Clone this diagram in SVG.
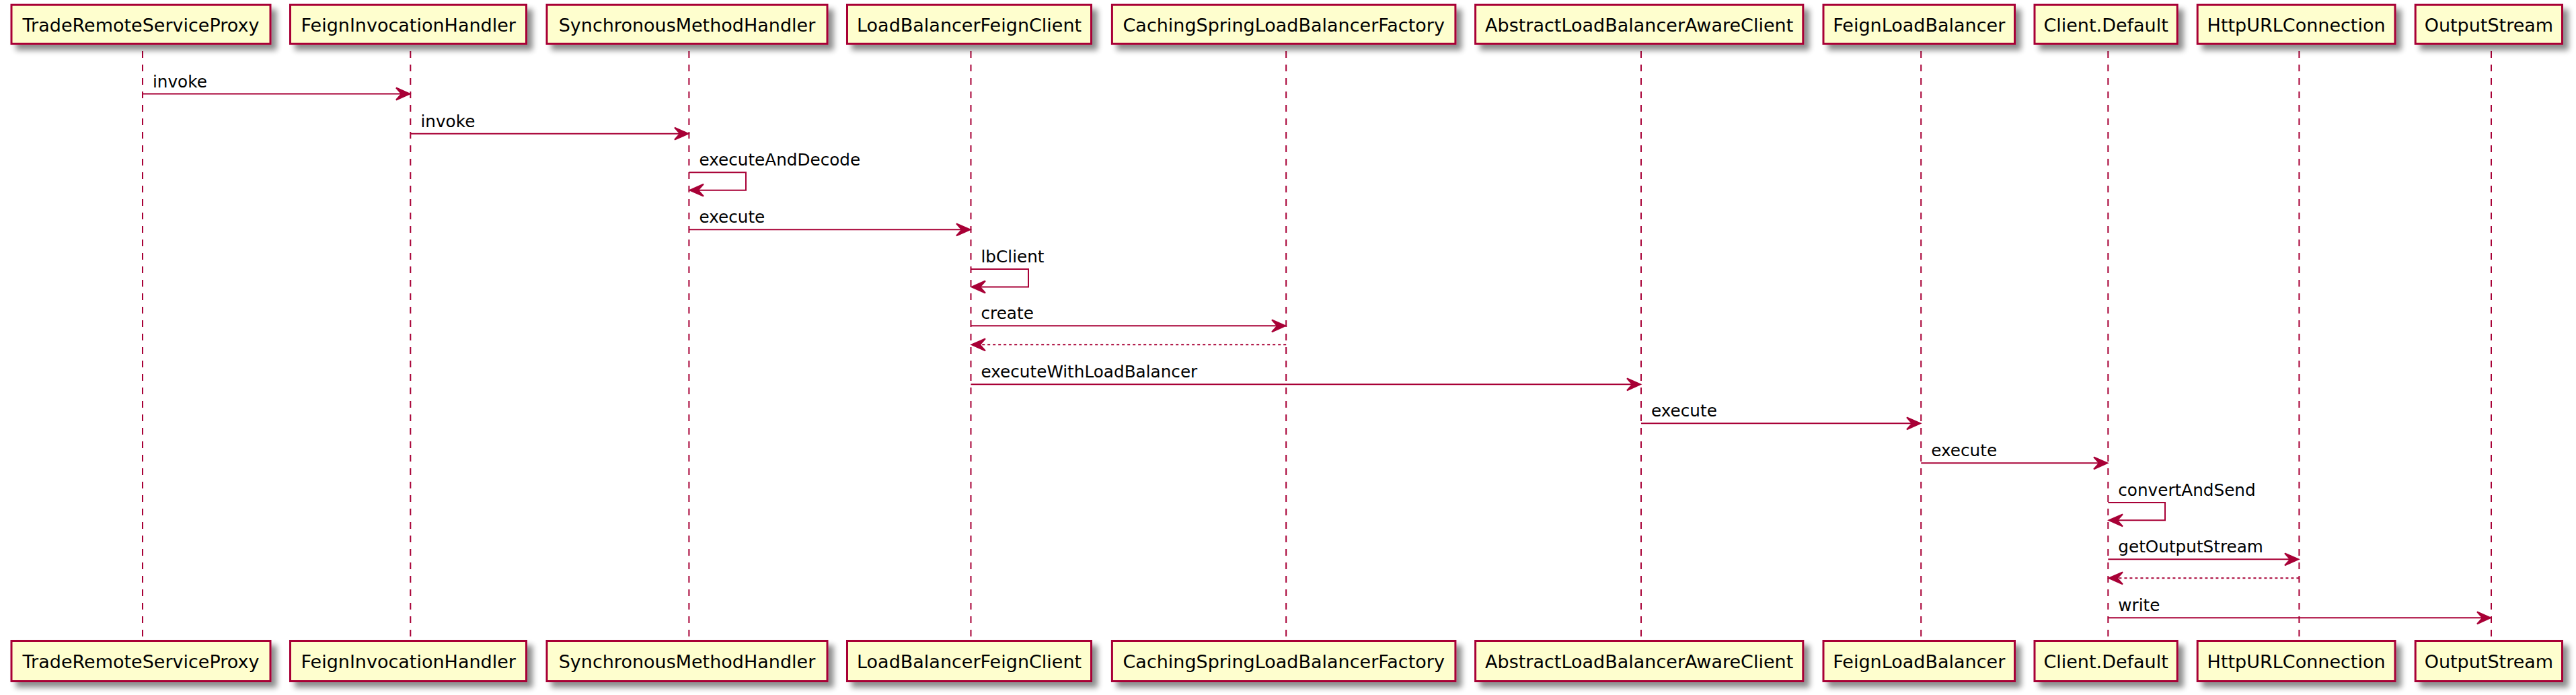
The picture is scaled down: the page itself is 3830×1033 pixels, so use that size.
<svg xmlns="http://www.w3.org/2000/svg" width="3830" height="1033" viewBox="0 0 3830 1033">
<defs>
<filter id="sh" x="-10%" y="-30%" width="130%" height="180%">
<feGaussianBlur in="SourceAlpha" stdDeviation="4"/>
<feOffset dx="8" dy="8" result="o"/>
<feComponentTransfer><feFuncA type="linear" slope="0.45"/></feComponentTransfer>
<feMerge><feMergeNode/><feMergeNode in="SourceGraphic"/></feMerge>
</filter>
</defs>
<style>
.box{fill:#FEFECE;stroke:#A80036;stroke-width:3;}
.pt{font-family:"DejaVu Sans","Liberation Sans",sans-serif;font-size:27px;fill:#000;text-anchor:middle;}
.life{stroke:#A80036;stroke-width:2;stroke-dasharray:10,10;fill:none;}
.msg{stroke:#A80036;stroke-width:2;fill:none;}
.ret{stroke:#A80036;stroke-width:2;stroke-dasharray:4,4;fill:none;}
.head{fill:#A80036;stroke:#A80036;stroke-width:2;stroke-linejoin:miter;}
.ml{font-family:"DejaVu Sans","Liberation Sans",sans-serif;font-size:24.7px;fill:#000;}
</style>
<rect width="3830" height="1033" fill="#FFFFFF"/>
<g id="lifelines">
<line class="life" x1="212" y1="76" x2="212" y2="947"/>
<line class="life" x1="610.3" y1="76" x2="610.3" y2="947"/>
<line class="life" x1="1024.4" y1="76" x2="1024.4" y2="947"/>
<line class="life" x1="1443.5" y1="76" x2="1443.5" y2="947"/>
<line class="life" x1="1912.2" y1="76" x2="1912.2" y2="947"/>
<line class="life" x1="2440" y1="76" x2="2440" y2="947"/>
<line class="life" x1="2856.2" y1="76" x2="2856.2" y2="947"/>
<line class="life" x1="3134.3" y1="76" x2="3134.3" y2="947"/>
<line class="life" x1="3418.4" y1="76" x2="3418.4" y2="947"/>
<line class="life" x1="3704" y1="76" x2="3704" y2="947"/>
</g>
<g id="p1">
<rect class="box" filter="url(#sh)" x="17" y="7.2" width="385" height="58"/>
<text class="pt" x="209.5" y="46.7">TradeRemoteServiceProxy</text>
<rect class="box" filter="url(#sh)" x="17" y="952.5" width="385" height="60"/>
<text class="pt" x="209.5" y="992.7">TradeRemoteServiceProxy</text>
</g>
<g id="p2">
<rect class="box" filter="url(#sh)" x="431.5" y="7.2" width="351" height="58"/>
<text class="pt" x="607.2" y="46.7">FeignInvocationHandler</text>
<rect class="box" filter="url(#sh)" x="431.5" y="952.5" width="351" height="60"/>
<text class="pt" x="607.2" y="992.7">FeignInvocationHandler</text>
</g>
<g id="p3">
<rect class="box" filter="url(#sh)" x="813" y="7.2" width="417" height="58"/>
<text class="pt" x="1021.5" y="46.7">SynchronousMethodHandler</text>
<rect class="box" filter="url(#sh)" x="813" y="952.5" width="417" height="60"/>
<text class="pt" x="1021.5" y="992.7">SynchronousMethodHandler</text>
</g>
<g id="p4">
<rect class="box" filter="url(#sh)" x="1259.5" y="7.2" width="363" height="58"/>
<text class="pt" x="1441.1" y="46.7">LoadBalancerFeignClient</text>
<rect class="box" filter="url(#sh)" x="1259.5" y="952.5" width="363" height="60"/>
<text class="pt" x="1441.1" y="992.7">LoadBalancerFeignClient</text>
</g>
<g id="p5">
<rect class="box" filter="url(#sh)" x="1653.4" y="7.2" width="510.5" height="58"/>
<text class="pt" x="1908.7" y="46.7">CachingSpringLoadBalancerFactory</text>
<rect class="box" filter="url(#sh)" x="1653.4" y="952.5" width="510.5" height="60"/>
<text class="pt" x="1908.7" y="992.7">CachingSpringLoadBalancerFactory</text>
</g>
<g id="p6">
<rect class="box" filter="url(#sh)" x="2193.6" y="7.2" width="487.2" height="58"/>
<text class="pt" x="2437.2" y="46.7">AbstractLoadBalancerAwareClient</text>
<rect class="box" filter="url(#sh)" x="2193.6" y="952.5" width="487.2" height="60"/>
<text class="pt" x="2437.2" y="992.7">AbstractLoadBalancerAwareClient</text>
</g>
<g id="p7">
<rect class="box" filter="url(#sh)" x="2711" y="7.2" width="284.5" height="58"/>
<text class="pt" x="2853.3" y="46.7">FeignLoadBalancer</text>
<rect class="box" filter="url(#sh)" x="2711" y="952.5" width="284.5" height="60"/>
<text class="pt" x="2853.3" y="992.7">FeignLoadBalancer</text>
</g>
<g id="p8">
<rect class="box" filter="url(#sh)" x="3025" y="7.2" width="212.2" height="58"/>
<text class="pt" x="3131.1" y="46.7">Client.Default</text>
<rect class="box" filter="url(#sh)" x="3025" y="952.5" width="212.2" height="60"/>
<text class="pt" x="3131.1" y="992.7">Client.Default</text>
</g>
<g id="p9">
<rect class="box" filter="url(#sh)" x="3267.2" y="7.2" width="293.8" height="58"/>
<text class="pt" x="3414.1" y="46.7">HttpURLConnection</text>
<rect class="box" filter="url(#sh)" x="3267.2" y="952.5" width="293.8" height="60"/>
<text class="pt" x="3414.1" y="992.7">HttpURLConnection</text>
</g>
<g id="p10">
<rect class="box" filter="url(#sh)" x="3591.2" y="7.2" width="218.3" height="58"/>
<text class="pt" x="3700.4" y="46.7">OutputStream</text>
<rect class="box" filter="url(#sh)" x="3591.2" y="952.5" width="218.3" height="60"/>
<text class="pt" x="3700.4" y="992.7">OutputStream</text>
</g>
<g id="connectors">
<line class="msg" x1="212" y1="139.5" x2="608" y2="139.5"/>
<polygon class="head" points="589,130.5 609.3,139.5 589,148.5 597,139.5"/>
<text class="ml" x="227" y="129.5">invoke</text>

<line class="msg" x1="610.3" y1="198.7" x2="1022" y2="198.7"/>
<polygon class="head" points="1003,189.7 1023.4,198.7 1003,207.7 1011,198.7"/>
<text class="ml" x="625.5" y="188.7">invoke</text>

<polyline class="msg" points="1024.4,256.3 1109,256.3 1109,282.7 1027,282.7"/>
<polygon class="head" points="1046,273.7 1025.6,282.7 1046,291.7 1038,282.7"/>
<text class="ml" x="1039.4" y="246.3">executeAndDecode</text>

<line class="msg" x1="1024.4" y1="341.3" x2="1441" y2="341.3"/>
<polygon class="head" points="1422,332.3 1442.5,341.3 1422,350.3 1430,341.3"/>
<text class="ml" x="1039.4" y="331.3">execute</text>

<polyline class="msg" points="1443.5,400 1529,400 1529,426.5 1446,426.5"/>
<polygon class="head" points="1465,417.5 1444.7,426.5 1465,435.5 1457,426.5"/>
<text class="ml" x="1458.5" y="390">lbClient</text>

<line class="msg" x1="1443.5" y1="484.3" x2="1910" y2="484.3"/>
<polygon class="head" points="1891,475.3 1911.2,484.3 1891,493.3 1899,484.3"/>
<text class="ml" x="1458.5" y="474.3">create</text>

<line class="ret" x1="1912.2" y1="512.3" x2="1446" y2="512.3"/>
<polygon class="head" points="1465,503.3 1444.7,512.3 1465,521.3 1457,512.3"/>

<line class="msg" x1="1443.5" y1="571.3" x2="2438" y2="571.3"/>
<polygon class="head" points="2419,562.3 2439,571.3 2419,580.3 2427,571.3"/>
<text class="ml" x="1458.5" y="561.3">executeWithLoadBalancer</text>

<line class="msg" x1="2440" y1="629.3" x2="2854" y2="629.3"/>
<polygon class="head" points="2835,620.3 2855.2,629.3 2835,638.3 2843,629.3"/>
<text class="ml" x="2455" y="619.3">execute</text>

<line class="msg" x1="2856.2" y1="688.3" x2="3132" y2="688.3"/>
<polygon class="head" points="3113,679.3 3133.3,688.3 3113,697.3 3121,688.3"/>
<text class="ml" x="2871.2" y="678.3">execute</text>

<polyline class="msg" points="3134.3,747 3219,747 3219,773.3 3137,773.3"/>
<polygon class="head" points="3156,764.3 3135.5,773.3 3156,782.3 3148,773.3"/>
<text class="ml" x="3149.3" y="737">convertAndSend</text>

<line class="msg" x1="3134.3" y1="831.3" x2="3416" y2="831.3"/>
<polygon class="head" points="3397,822.3 3417.4,831.3 3397,840.3 3405,831.3"/>
<text class="ml" x="3149.3" y="821.3">getOutputStream</text>

<line class="ret" x1="3418.4" y1="859.3" x2="3137" y2="859.3"/>
<polygon class="head" points="3156,850.3 3135.5,859.3 3156,868.3 3148,859.3"/>

<line class="msg" x1="3134.3" y1="918.3" x2="3702" y2="918.3"/>
<polygon class="head" points="3683,909.3 3703,918.3 3683,927.3 3691,918.3"/>
<text class="ml" x="3149.3" y="908.3">write</text>
</g>
</svg>
